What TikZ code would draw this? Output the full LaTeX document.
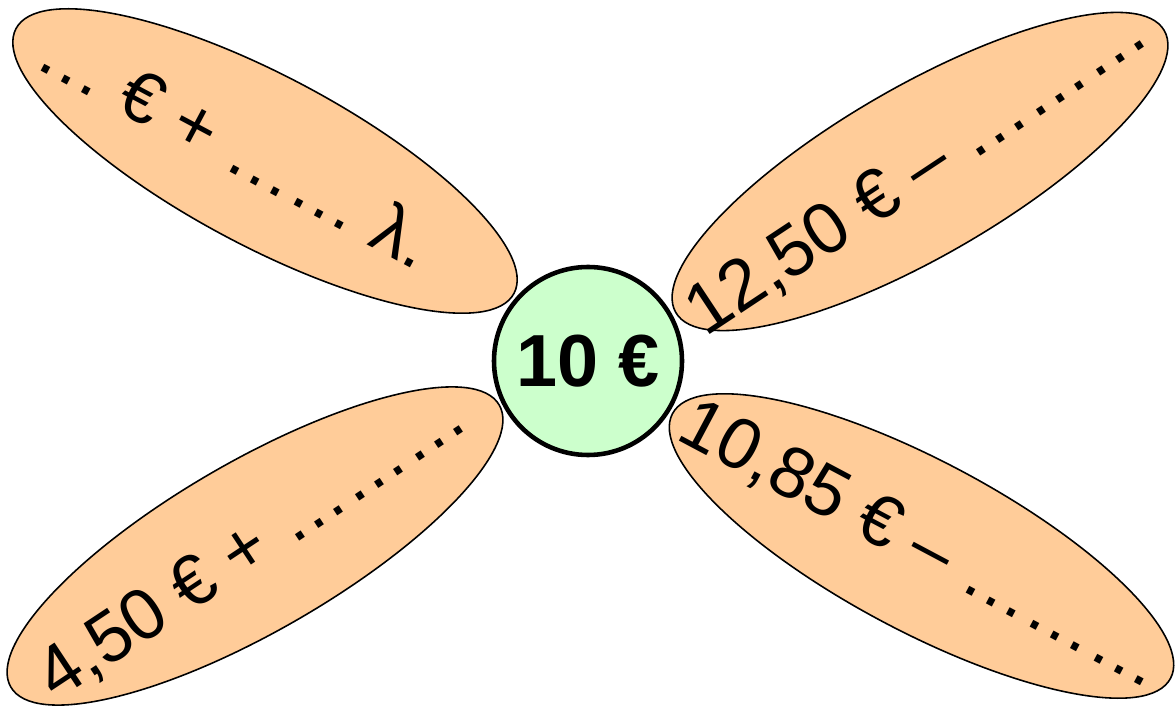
\documentclass[tikz,border=0pt]{standalone}
\usepackage{fontspec}
\setmainfont{Liberation Sans}
\usetikzlibrary{shapes.geometric}
\definecolor{Peach}{HTML}{FFCC99}
\definecolor{Mint}{HTML}{CCFFCC}

\begin{document}
\begin{tikzpicture}[
  petal/.style={
    ellipse,
    draw=black,
    line width=0.9pt,
    fill=Peach,
    minimum width=11.28cm,
    minimum height=3.4cm,
    inner sep=0pt,
    font=\fontsize{41}{49}\selectfont
  },
  coin/.style={
    circle,
    draw=black,
    line width=2.6pt,
    fill=Mint,
    minimum size=3.76cm,
    inner sep=0pt,
    font=\fontsize{42}{50}\selectfont\bfseries
  }
]
  \useasboundingbox (0,0) rectangle (23.5,14.14);
  \node[petal, rotate=-28] (topleft) at (5.30,10.92) {\makebox[0pt]{\kern-1.3cm\raisebox{-0.45cm}{… € + …… λ.}}};
  \node[petal, rotate=30] (topright) at (18.40,10.71) {\makebox[0pt]{\kern-0.1cm\rotatebox{3.5}{12,50 € – ………}}};
  \node[petal, rotate=30] (bottomleft) at (5.10,3.22) {\makebox[0pt]{\kern-0.1cm\raisebox{0.12cm}{\rotatebox{3.5}{4,50 € + ………}}}};
  \node[petal, rotate=-28] (bottomright) at (18.43,3.22) {\makebox[0pt]{\raisebox{-0.22cm}{10,85 € – ………}}};

  \node[coin] (price) at (11.76,6.92) {10 €};
\end{tikzpicture}
\end{document}
